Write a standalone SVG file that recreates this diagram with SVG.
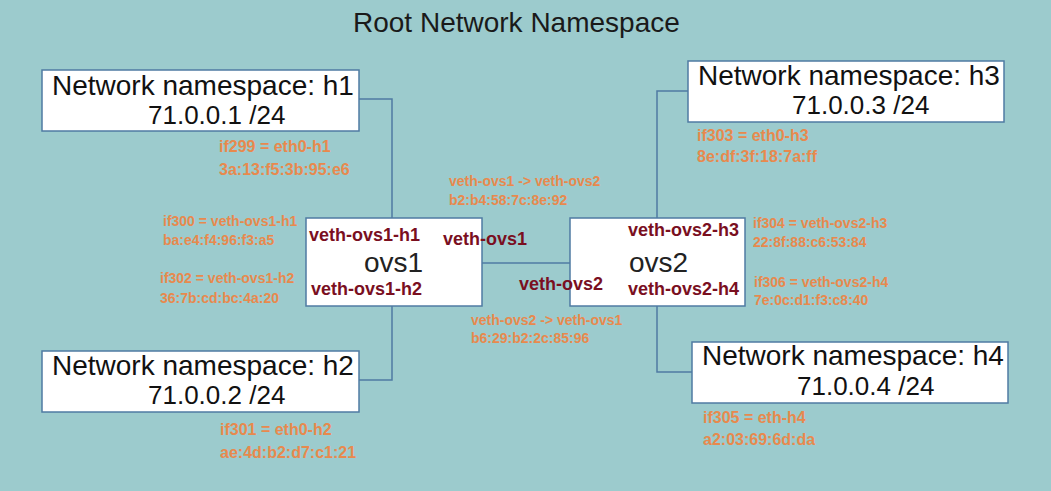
<svg xmlns="http://www.w3.org/2000/svg" width="1051" height="491" viewBox="0 0 1051 491">
<style>
.box{fill:#ffffff;stroke:#4f7ba3;stroke-width:1.5}
.ln{fill:none;stroke:#4f7ba3;stroke-width:1.5}
.ns{font-family:"Liberation Sans",Arial,sans-serif;font-size:28px;fill:#111}
.ip{font-family:"Liberation Sans",Arial,sans-serif;font-size:26px;fill:#111}
.sw{font-family:"Liberation Sans",Arial,sans-serif;font-size:28px;fill:#222}
.port{font-family:"Liberation Sans",Arial,sans-serif;font-size:18px;font-weight:bold;fill:#7a0f1f}
.or{font-family:"Liberation Sans",Arial,sans-serif;font-size:14px;font-weight:bold;fill:#e8894d}
.orl{font-family:"Liberation Sans",Arial,sans-serif;font-size:16px;font-weight:bold;fill:#e8894d}
.title{font-family:"Liberation Sans",Arial,sans-serif;font-size:28px;fill:#1a1a1a}
</style>
<rect x="0" y="0" width="1051" height="491" fill="#9ccbcd"/>
<text class="title" x="353" y="32">Root Network Namespace</text>

<g id="connectors">
<polyline class="ln" points="359,99 392,99 392,218"/>
<polyline class="ln" points="359,380 392,380 392,306"/>
<line class="ln" x1="482" y1="263" x2="570" y2="263"/>
<polyline class="ln" points="688,91 657,91 657,218"/>
<polyline class="ln" points="692,372 657,372 657,306"/>
</g>

<g id="h1">
<rect class="box" x="42" y="70" width="317" height="61"/>
<text class="ns" x="52" y="95">Network namespace: h1</text>
<text class="ip" x="148" y="124">71.0.0.1 /24</text>
<text class="orl" x="219" y="152">if299 = eth0-h1</text>
<text class="orl" x="219" y="175">3a:13:f5:3b:95:e6</text>
</g>

<g id="h2">
<rect class="box" x="42" y="351" width="317" height="61"/>
<text class="ns" x="52" y="375">Network namespace: h2</text>
<text class="ip" x="148" y="404">71.0.0.2 /24</text>
<text class="orl" x="220" y="435">if301 = eth0-h2</text>
<text class="orl" x="220" y="458">ae:4d:b2:d7:c1:21</text>
</g>

<g id="h3">
<rect class="box" x="688" y="61" width="316" height="61"/>
<text class="ns" x="698" y="85">Network namespace: h3</text>
<text class="ip" x="792" y="114">71.0.0.3 /24</text>
<text class="orl" x="697" y="141">if303 = eth0-h3</text>
<text class="orl" x="697" y="162">8e:df:3f:18:7a:ff</text>
</g>

<g id="h4">
<rect class="box" x="692" y="342" width="316" height="61"/>
<text class="ns" x="702" y="365">Network namespace: h4</text>
<text class="ip" x="797" y="395">71.0.0.4 /24</text>
<text class="orl" x="703" y="423">if305 = eth-h4</text>
<text class="orl" x="703" y="445">a2:03:69:6d:da</text>
</g>

<g id="ovs1">
<rect class="box" x="306" y="218" width="176" height="88"/>
<text class="sw" x="364" y="272">ovs1</text>
<text class="port" x="309" y="241">veth-ovs1-h1</text>
<text class="port" x="311" y="295">veth-ovs1-h2</text>
<text class="port" x="443" y="245">veth-ovs1</text>
<text class="or" x="163" y="226">if300 = veth-ovs1-h1</text>
<text class="or" x="163" y="245">ba:e4:f4:96:f3:a5</text>
<text class="or" x="160" y="283">if302 = veth-ovs1-h2</text>
<text class="or" x="160" y="303">36:7b:cd:bc:4a:20</text>
</g>

<g id="ovs2">
<rect class="box" x="570" y="218" width="175" height="88"/>
<text class="sw" x="629" y="272">ovs2</text>
<text class="port" x="628" y="236">veth-ovs2-h3</text>
<text class="port" x="628" y="295">veth-ovs2-h4</text>
<text class="port" x="519" y="290">veth-ovs2</text>
<text class="or" x="753" y="228">if304 = veth-ovs2-h3</text>
<text class="or" x="753" y="247">22:8f:88:c6:53:84</text>
<text class="or" x="754" y="287">if306 = veth-ovs2-h4</text>
<text class="or" x="754" y="305">7e:0c:d1:f3:c8:40</text>
</g>

<g id="veth-link-labels">
<text class="or" x="449" y="186">veth-ovs1 -&gt; veth-ovs2</text>
<text class="or" x="449" y="205">b2:b4:58:7c:8e:92</text>
<text class="or" x="471" y="325">veth-ovs2 -&gt; veth-ovs1</text>
<text class="or" x="471" y="343">b6:29:b2:2c:85:96</text>
</g>
</svg>
